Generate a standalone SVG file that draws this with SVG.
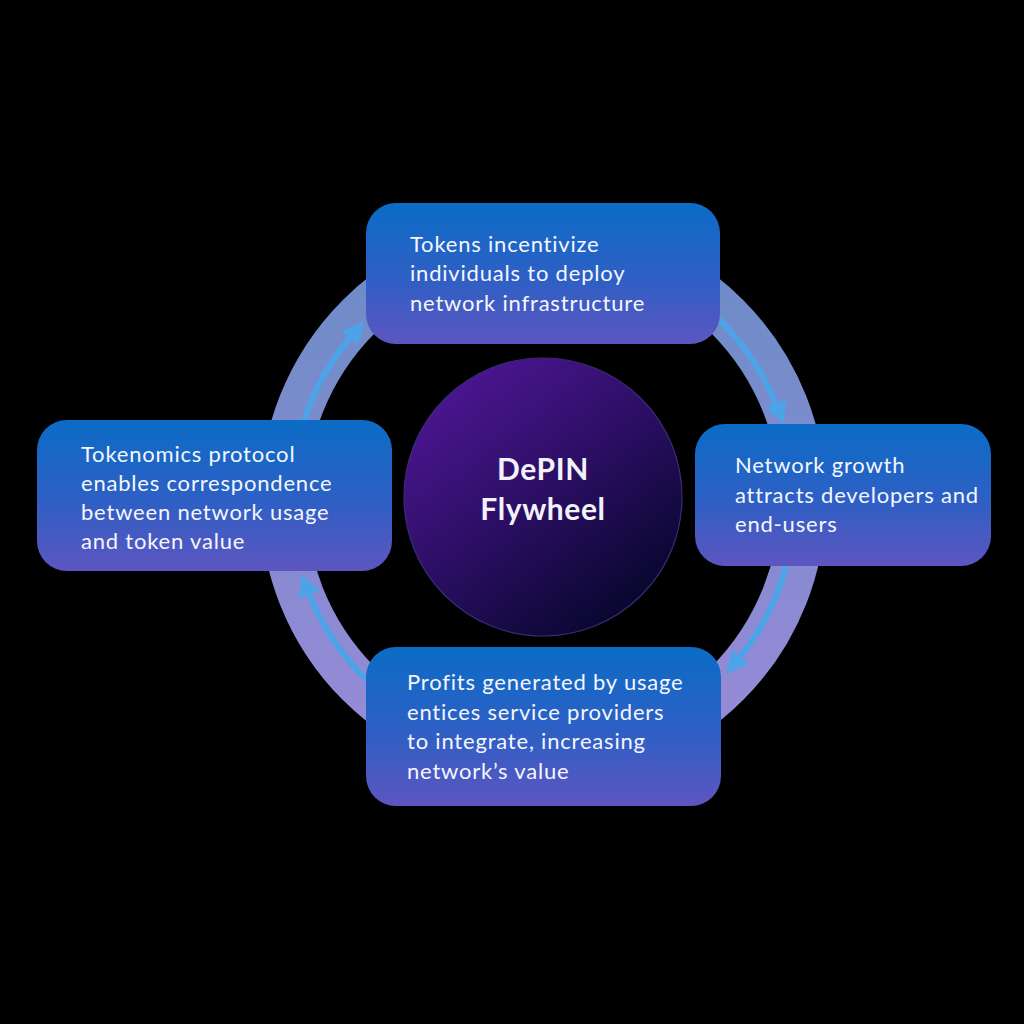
<svg xmlns="http://www.w3.org/2000/svg" width="1024" height="1024" viewBox="0 0 1024 1024">
  <defs>
    <linearGradient id="boxGrad" x1="0" y1="0" x2="0" y2="1">
      <stop offset="0" stop-color="#0B6CC6"/>
      <stop offset="0.55" stop-color="#2F5FC4"/>
      <stop offset="1" stop-color="#5E55C0"/>
    </linearGradient>
    <linearGradient id="ringGrad" gradientUnits="userSpaceOnUse" x1="0" y1="230" x2="0" y2="770">
      <stop offset="0" stop-color="#6A8CC6"/>
      <stop offset="1" stop-color="#9A8AD8"/>
    </linearGradient>
    <linearGradient id="hubGrad" x1="0.15" y1="0.05" x2="0.85" y2="0.95">
      <stop offset="0" stop-color="#4E1694"/>
      <stop offset="0.5" stop-color="#2A0E62"/>
      <stop offset="1" stop-color="#040628"/>
    </linearGradient>
    <marker id="arrow" markerUnits="userSpaceOnUse" markerWidth="22" markerHeight="22" refX="4" refY="11" orient="auto" viewBox="0 0 22 22">
      <path d="M0,0 L22,11 L0,22 z" fill="#4DA3E8"/>
    </marker>
    <style>
      .box { fill: url(#boxGrad); }
      .label { font-family: Lato, "Noto Sans", "Liberation Sans", sans-serif; font-size: 22px; letter-spacing: 0.8px; fill: #F4F6FF; }
      .title { font-family: Lato, "Noto Sans", "Liberation Sans", sans-serif; font-size: 30px; font-weight: bold; letter-spacing: 0.6px; fill: #F2F2FA; text-anchor: middle; }
      .flow { fill: none; stroke: #4DA3E8; stroke-width: 6; marker-end: url(#arrow); }
    </style>
  </defs>
  <rect width="1024" height="1024" fill="#000000"/>

  <g id="connectors">
    <circle cx="543" cy="500" r="260" fill="none" stroke="url(#ringGrad)" stroke-width="46"/>
    <path class="flow" d="M304.2,419.6 A252,252 0 0 1 352.5,335.0"/>
    <path class="flow" d="M718.1,318.7 A252,252 0 0 1 777.3,407.2"/>
    <path class="flow" d="M786.2,566.1 A252,252 0 0 1 737.7,659.9"/>
    <path class="flow" d="M365.4,678.8 A252,252 0 0 1 307.9,590.7"/>
  </g>

  <g id="hub">
    <circle cx="543" cy="497" r="139" fill="url(#hubGrad)" stroke="#3B2A78" stroke-width="1.2"/>
    <text class="title" x="543" y="480">DePIN</text>
    <text class="title" x="543" y="520">Flywheel</text>
  </g>

  <g id="node-top">
    <rect class="box" x="366" y="203" width="354" height="141" rx="30"/>
    <text class="label" x="410" y="251.5">Tokens incentivize</text>
    <text class="label" x="410" y="281">individuals to deploy</text>
    <text class="label" x="410" y="310.5">network infrastructure</text>
  </g>

  <g id="node-right">
    <rect class="box" x="695" y="424" width="296" height="142" rx="30"/>
    <text class="label" x="735" y="473">Network growth</text>
    <text class="label" x="735" y="502.5">attracts developers and</text>
    <text class="label" x="735" y="532">end-users</text>
  </g>

  <g id="node-bottom">
    <rect class="box" x="366" y="647" width="355" height="159" rx="30"/>
    <text class="label" x="407" y="689.5">Profits generated by usage</text>
    <text class="label" x="407" y="719.5">entices service providers</text>
    <text class="label" x="407" y="749">to integrate, increasing</text>
    <text class="label" x="407" y="778.5">network’s value</text>
  </g>

  <g id="node-left">
    <rect class="box" x="37" y="420" width="355" height="151" rx="30"/>
    <text class="label" x="81" y="461.5">Tokenomics protocol</text>
    <text class="label" x="81" y="490.5">enables correspondence</text>
    <text class="label" x="81" y="519.5">between network usage</text>
    <text class="label" x="81" y="548.5">and token value</text>
  </g>
</svg>
